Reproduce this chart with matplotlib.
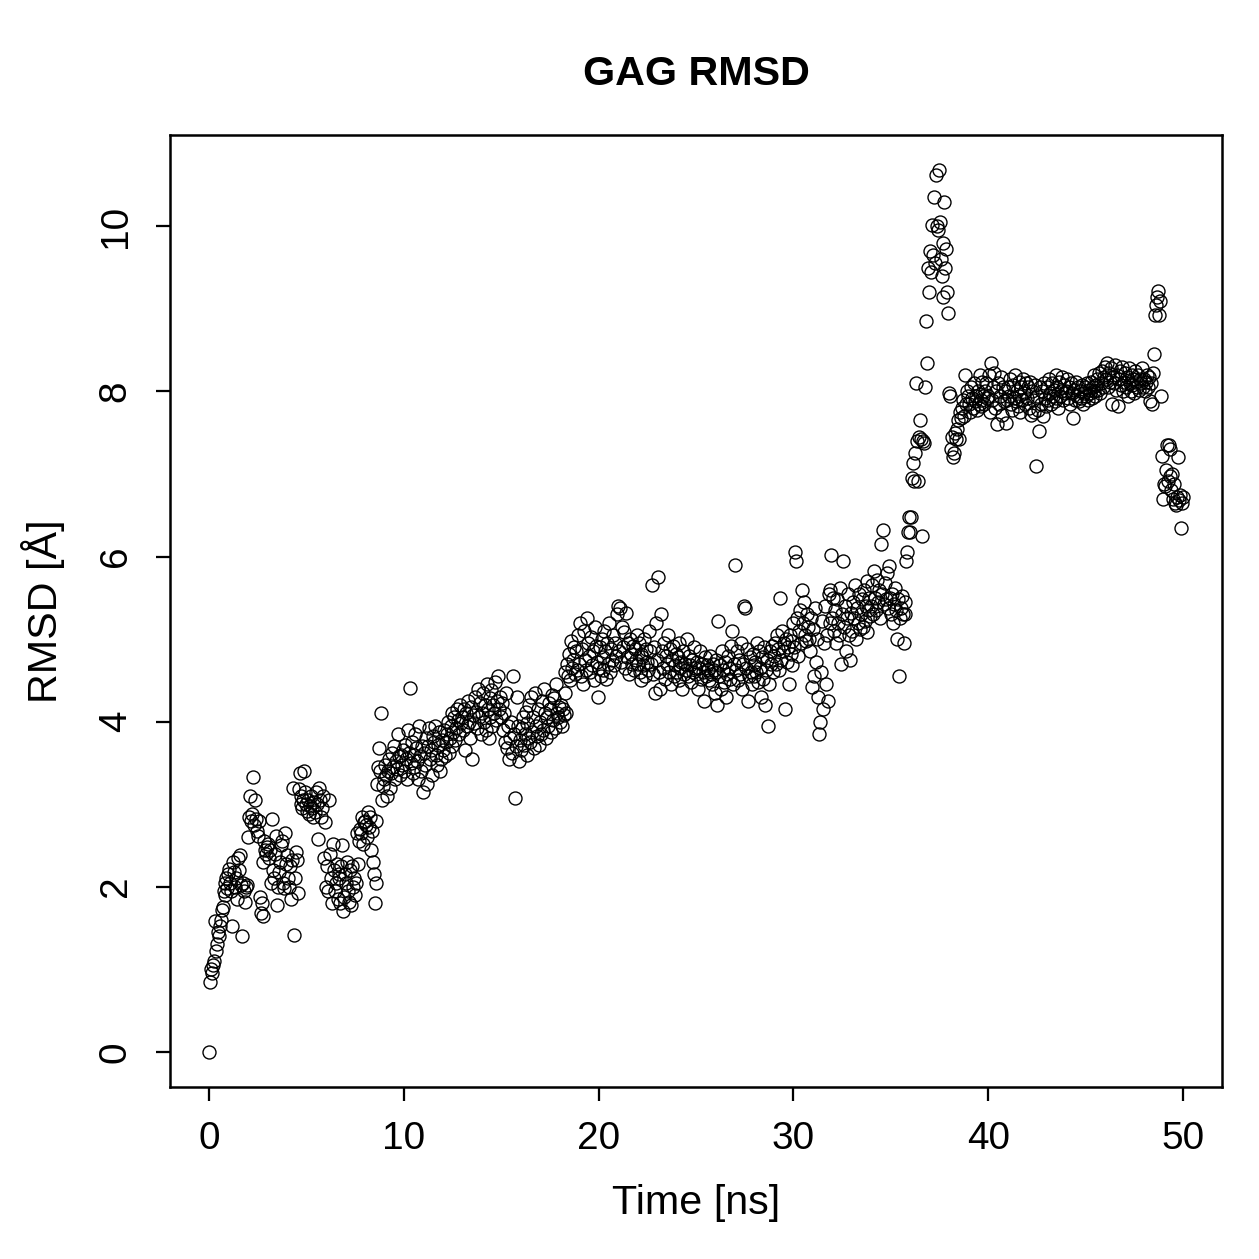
import numpy as np
import matplotlib
matplotlib.use("Agg")
import matplotlib.pyplot as plt

plt.rcParams['font.family'] = ['Liberation Sans', 'DejaVu Sans']

# RMSD values, one frame every 0.05 ns, grouped per ns
rmsd_00_10 = [
    0.00, 0.85, 1.00, 0.95, 1.05, 1.10, 1.58, 1.22, 1.30, 1.45, 1.40, 1.52, 1.60, 1.72, 1.75, 1.95, 1.90, 2.05, 2.10, 1.98,
    2.15, 2.22, 2.05, 1.95, 1.52, 2.30, 2.18, 2.00, 2.10, 1.85, 2.35, 2.20, 2.38, 2.02, 1.40, 2.05, 1.95, 1.82, 2.00, 2.02,
    2.60, 2.85, 3.10, 2.80, 2.88, 3.33, 2.75, 3.05, 2.82, 2.68, 2.62, 2.80, 1.88, 1.68, 1.80, 1.65, 2.30, 2.55, 2.45, 2.40,
    2.48, 2.52, 2.35, 2.45, 2.05, 2.82, 2.20, 2.10, 2.40, 2.62, 1.78, 2.00, 2.18, 2.30, 2.50, 2.55, 2.05, 1.98, 2.65, 2.28,
    2.38, 2.10, 2.00, 2.25, 1.85, 2.32, 3.20, 1.42, 2.10, 2.42, 2.32, 1.92, 3.18, 3.38, 3.10, 3.00, 2.95, 3.05, 3.40, 3.15,
    3.00, 2.92, 3.05, 2.88, 2.98, 3.10, 2.95, 2.85, 3.02, 2.90, 3.15, 3.00, 2.58, 3.20, 3.05, 2.85, 2.95, 3.10, 2.35, 2.78,
    2.00, 2.25, 1.95, 3.05, 2.40, 2.10, 1.80, 2.52, 2.20, 1.95, 2.05, 2.28, 1.85, 2.15, 2.10, 1.80, 2.25, 2.50, 1.70, 1.88,
    2.15, 2.05, 2.30, 1.95, 1.82, 2.20, 1.78, 2.25, 2.00, 2.10, 1.90, 2.05, 2.65, 2.28, 2.55, 2.70, 2.65, 2.85, 2.52, 2.78,
    2.80, 2.75, 2.60, 2.90, 2.72, 2.85, 2.45, 2.68, 2.30, 2.15, 1.80, 2.05, 2.80, 3.25, 3.45, 3.68, 3.40, 4.10, 3.05, 3.22,
    3.30, 3.48, 3.35, 3.10, 3.40, 3.55, 3.20, 3.38, 3.62, 3.45, 3.70, 3.30, 3.52, 3.42, 3.85, 3.58, 3.35, 3.60, 3.48, 3.65,
]
rmsd_10_20 = [
    3.40, 3.72, 3.55, 3.30, 3.90, 3.62, 4.41, 3.50, 3.75, 3.38, 3.60, 3.45, 3.85, 3.68, 3.52, 3.30, 3.95, 3.58, 3.40, 3.70,
    3.15, 3.62, 3.48, 3.80, 3.25, 3.70, 3.92, 3.55, 3.65, 3.35, 3.82, 3.75, 3.95, 3.60, 3.48, 3.72, 3.88, 3.40, 3.55, 3.78,
    3.65, 3.90, 3.58, 3.75, 3.85, 4.00, 3.62, 3.80, 3.95, 3.70, 4.10, 3.88, 4.05, 3.78, 3.92, 4.15, 4.02, 3.85, 4.20, 3.98,
    4.05, 3.90, 4.15, 3.65, 4.10, 3.95, 4.25, 4.00, 3.80, 4.18, 3.55, 4.08, 3.98, 4.30, 4.12, 3.92, 4.40, 4.05, 4.22, 3.85,
    4.10, 4.35, 4.00, 4.20, 3.90, 4.45, 4.15, 3.80, 4.05, 4.28, 4.38, 3.95, 4.20, 4.10, 4.48, 4.02, 4.25, 4.55, 4.15, 4.30,
    4.05, 4.22, 3.90, 4.10, 3.75, 4.35, 3.68, 3.95, 3.55, 3.80, 4.00, 3.62, 4.55, 3.85, 3.08, 3.70, 4.30, 3.95, 3.52, 3.78,
    3.65, 3.92, 4.05, 3.72, 3.85, 4.12, 3.60, 3.98, 3.80, 4.20, 3.75, 4.30, 3.88, 4.05, 3.68, 4.35, 3.95, 3.82, 4.15, 3.72,
    4.00, 3.85, 4.25, 3.90, 4.40, 4.10, 3.80, 4.05, 3.95, 4.22, 4.15, 3.88, 4.32, 4.02, 4.28, 3.92, 4.45, 4.10, 4.05, 4.18,
    4.00, 4.20, 3.95, 4.15, 4.08, 4.35, 4.60, 4.10, 4.70, 4.55, 4.82, 4.50, 4.98, 4.65, 4.75, 4.90, 4.58, 4.85, 4.62, 5.05,
    4.70, 5.20, 4.55, 4.88, 4.45, 5.10, 4.75, 4.62, 5.25, 4.95, 4.80, 4.60, 5.02, 4.68, 4.85, 4.50, 5.15, 4.92, 4.72, 4.30,
]
rmsd_20_30 = [
    4.65, 4.90, 4.55, 5.00, 4.78, 4.62, 5.10, 4.85, 4.52, 4.95, 4.70, 5.20, 4.60, 4.88, 4.75, 5.05, 4.68, 4.95, 4.80, 5.30,
    5.40, 4.85, 5.38, 4.72, 5.15, 4.90, 5.08, 4.65, 5.32, 4.78, 4.95, 4.58, 5.00, 4.82, 4.70, 4.92, 4.62, 4.88, 4.75, 5.05,
    4.70, 4.95, 4.60, 4.82, 4.50, 4.78, 4.68, 5.00, 4.55, 4.88, 4.72, 4.62, 5.10, 4.85, 4.70, 5.65, 4.58, 4.90, 4.35, 5.20,
    4.75, 5.75, 4.60, 4.40, 5.30, 4.85, 4.65, 4.95, 4.52, 4.80, 4.70, 5.05, 4.60, 4.88, 4.45, 4.75, 4.92, 4.55, 4.68, 4.82,
    4.60, 4.78, 4.50, 4.95, 4.65, 4.72, 4.40, 4.85, 4.58, 4.70, 4.62, 5.00, 4.55, 4.80, 4.68, 4.48, 4.75, 4.60, 4.90, 4.65,
    4.58, 4.72, 4.40, 4.65, 4.85, 4.52, 4.70, 4.60, 4.25, 4.78, 4.55, 4.68, 4.62, 4.50, 4.80, 4.58, 4.45, 4.70, 4.62, 4.35,
    4.60, 4.75, 4.20, 5.22, 4.55, 4.68, 4.40, 4.85, 4.62, 4.48, 4.72, 4.30, 4.58, 4.80, 4.65, 4.52, 4.92, 5.10, 4.45, 4.70,
    5.90, 4.62, 4.85, 4.50, 4.75, 4.58, 4.95, 4.40, 4.70, 5.40, 5.38, 4.65, 4.88, 4.25, 4.55, 4.78, 4.60, 4.45, 4.82, 4.68,
    4.55, 4.72, 4.60, 4.95, 4.48, 4.85, 4.65, 4.30, 4.78, 4.52, 4.90, 4.20, 4.62, 4.75, 3.95, 4.45, 4.85, 4.70, 4.92, 4.60,
    4.80, 4.95, 4.70, 5.05, 4.88, 4.62, 5.50, 4.75, 5.10, 4.85, 4.95, 4.15, 5.00, 4.72, 4.90, 4.45, 5.05, 4.82, 4.98, 4.68,
]
rmsd_30_40 = [
    5.20, 4.90, 6.05, 5.95, 5.25, 4.80, 5.10, 5.35, 4.95, 5.60, 5.20, 5.45, 5.05, 4.98, 5.30, 5.15, 5.00, 4.85, 5.25, 4.42,
    5.12, 4.55, 5.38, 4.72, 5.00, 4.30, 3.85, 4.00, 4.60, 5.22, 4.15, 4.95, 5.40, 4.45, 5.05, 4.25, 5.55, 5.20, 5.60, 6.02,
    5.25, 5.50, 5.10, 5.35, 4.95, 5.48, 5.20, 5.05, 5.62, 4.70, 5.30, 5.95, 5.15, 5.40, 4.85, 5.25, 5.55, 5.05, 4.75, 5.32,
    5.10, 5.45, 5.25, 5.65, 5.00, 5.38, 5.20, 5.55, 5.12, 5.30, 5.48, 5.15, 5.60, 5.22, 5.40, 5.08, 5.70, 5.35, 5.50, 5.28,
    5.40, 5.65, 5.30, 5.82, 5.50, 5.35, 5.72, 5.45, 5.60, 5.25, 6.15, 5.55, 6.32, 5.42, 5.68, 5.48, 5.80, 5.38, 5.88, 5.50,
    5.30, 5.55, 5.20, 5.42, 5.62, 5.35, 5.00, 5.48, 4.55, 5.25, 5.38, 5.52, 5.30, 4.95, 5.45, 5.30, 5.95, 6.05, 6.30, 6.48,
    6.30, 6.48, 6.95, 7.13, 6.92, 7.25, 8.10, 7.40, 6.92, 7.45, 7.65, 7.42, 6.25, 7.40, 7.38, 8.05, 8.85, 8.35, 9.50, 9.20,
    9.70, 9.45, 10.02, 9.65, 10.35, 9.55, 10.62, 10.00, 9.95, 10.68, 10.05, 9.60, 9.40, 9.15, 9.80, 10.30, 9.50, 9.72, 9.20, 8.95,
    7.98, 7.95, 7.30, 7.45, 7.20, 7.25, 7.50, 7.42, 7.55, 7.65, 7.42, 7.75, 7.68, 7.80, 7.90, 7.70, 8.20, 7.85, 8.00, 7.95,
    7.85, 7.75, 8.05, 7.92, 7.80, 8.10, 7.88, 7.95, 7.78, 8.00, 7.85, 8.20, 7.90, 7.82, 8.12, 7.95, 7.85, 8.00, 8.10, 7.92,
]
rmsd_40_50 = [
    7.95, 8.20, 7.75, 8.35, 7.90, 8.05, 8.22, 7.80, 8.00, 7.60, 8.10, 7.85, 7.95, 8.18, 7.72, 8.05, 7.88, 8.00, 7.62, 7.90,
    8.05, 7.95, 8.15, 7.85, 7.78, 8.08, 7.92, 8.20, 7.88, 8.00, 7.82, 8.12, 7.95, 7.75, 8.05, 7.90, 8.15, 7.98, 7.85, 8.10,
    7.92, 8.05, 7.80, 8.12, 7.72, 8.00, 7.90, 7.75, 8.08, 7.10, 7.95, 7.78, 7.52, 8.05, 7.85, 8.00, 7.70, 8.10, 7.92, 7.82,
    8.05, 7.90, 8.15, 7.98, 7.85, 8.10, 7.95, 8.02, 7.88, 8.20, 7.92, 8.05, 7.80, 8.12, 7.95, 8.00, 8.18, 7.90, 8.08, 7.98,
    8.00, 8.15, 7.92, 8.05, 7.85, 8.10, 7.98, 7.68, 8.02, 7.90, 8.12, 7.95, 8.05, 7.88, 8.00, 7.92, 8.08, 7.85, 7.98, 8.05,
    7.95, 8.10, 7.90, 8.02, 7.98, 8.12, 7.92, 8.05, 8.00, 8.20, 7.95, 8.08, 8.15, 8.02, 8.22, 7.98, 8.10, 8.25, 8.05, 8.18,
    8.30, 8.15, 8.35, 8.05, 8.22, 8.12, 8.28, 7.85, 8.18, 8.10, 8.32, 8.02, 8.20, 7.82, 8.15, 8.25, 8.08, 8.30, 8.00, 8.12,
    8.22, 8.05, 8.18, 7.95, 8.28, 8.10, 8.00, 8.20, 8.08, 8.15, 7.98, 8.25, 8.12, 8.05, 8.20, 8.02, 8.15, 8.10, 8.28, 8.05,
    8.15, 8.00, 8.12, 8.20, 8.05, 8.18, 7.88, 8.10, 7.85, 8.22, 8.45, 8.92, 9.05, 9.15, 9.22, 8.92, 9.10, 7.95, 7.22, 6.70,
    6.88, 6.85, 7.05, 7.35, 6.92, 7.35, 7.30, 6.98, 6.80, 7.00, 6.70, 6.88, 6.65, 6.62, 6.72, 7.20, 6.68, 6.75, 6.35, 6.65,
    6.72,
]

rmsd = np.array(rmsd_00_10 + rmsd_10_20 + rmsd_20_30 + rmsd_30_40 + rmsd_40_50)
time_ns = np.arange(len(rmsd)) * 0.05

fig = plt.figure(figsize=(1259 / 180, 1259 / 180), dpi=180)
ax = fig.add_axes([0.135, 0.1366, 0.8357, 0.7562])

ax.plot(time_ns, rmsd, 'o', markersize=5.2, markerfacecolor='none',
        markeredgecolor='black', markeredgewidth=0.55)

# R style 4% padding
xr = time_ns.max() - time_ns.min()
yr = rmsd.max() - rmsd.min()
ax.set_xlim(time_ns.min() - 0.04 * xr, time_ns.max() + 0.04 * xr)
ax.set_ylim(rmsd.min() - 0.04 * yr, rmsd.max() + 0.04 * yr)

ax.set_xticks([0, 10, 20, 30, 40, 50])
ax.set_yticks([0, 2, 4, 6, 8, 10])
ax.tick_params(direction='out', length=5.5, width=0.9, labelsize=15.5)
ax.tick_params(axis='x', pad=8)
ax.tick_params(axis='y', pad=9)
plt.setp(ax.get_yticklabels(), rotation=90, va='center')
for s in ax.spines.values():
    s.set_linewidth(1.0)

ax.set_xlabel("Time [ns]", fontsize=16.5, labelpad=11)
ax.set_ylabel("RMSD [Å]", fontsize=16.5, labelpad=13)
ax.set_title("GAG RMSD", fontsize=16.5, fontweight='bold', pad=20)

fig.savefig("out.png", dpi=180)
